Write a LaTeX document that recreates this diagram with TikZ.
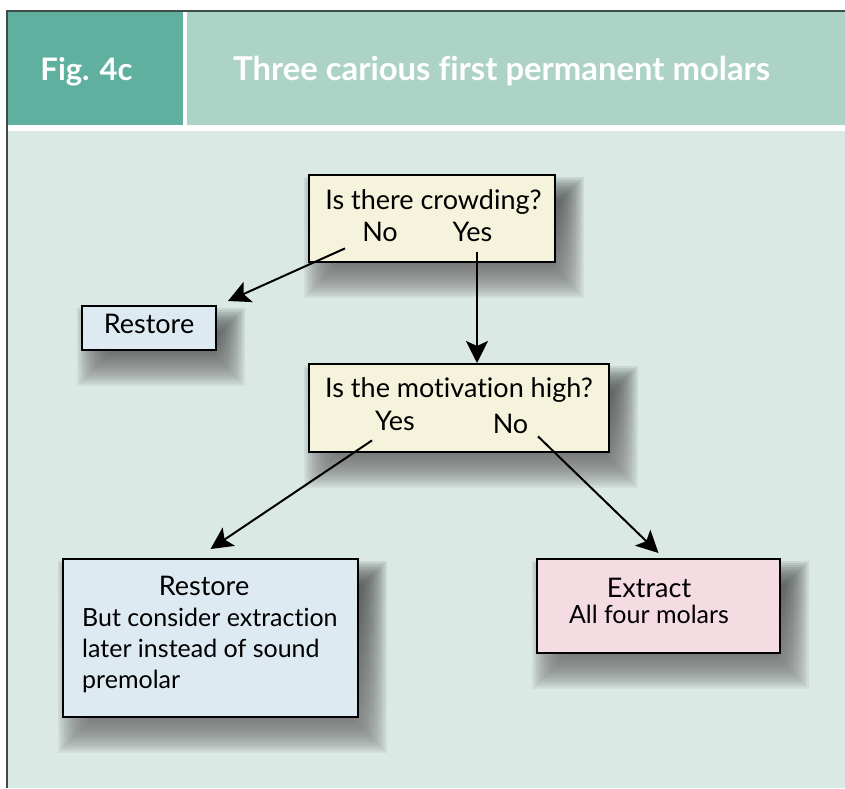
\documentclass[tikz,border=0pt]{standalone}
\usepackage{fontspec}
\setmainfont[Ligatures=NoCommon]{Lato}
\usetikzlibrary{positioning,arrows.meta}

\definecolor{headdark}{HTML}{5FB09F}
\definecolor{headlight}{HTML}{ADD2C6}
\definecolor{panel}{HTML}{DBE9E4}
\definecolor{framegray}{HTML}{3E4C4A}
\definecolor{askfill}{HTML}{F5F3DC}
\definecolor{keepfill}{HTML}{DEEAF2}
\definecolor{pullfill}{HTML}{F4DCE2}
\definecolor{shade}{HTML}{2E3A37}

\pgfdeclarelayer{back}
\pgfdeclarelayer{shadow}
\pgfsetlayers{back,shadow,main}

\begin{document}
\begin{tikzpicture}[x=1pt,y=-1pt,
% node style
box/.style={rectangle, draw=black, line width=2pt, inner sep=0pt},
ask/.style={box, fill=askfill},
keep/.style={box, fill=keepfill},
pull/.style={box, fill=pullfill},
txt/.style={font=\fontsize{27}{32}\selectfont, inner sep=0pt, anchor=base},
small/.style={txt, font=\fontsize{25}{30}\selectfont},
head/.style={font=\bfseries\fontsize{31}{36}\selectfont, text=white, inner sep=0pt, anchor=base},
arr/.style={-{Stealth[length=22pt,width=22pt,inset=5pt]}, line width=2pt}
]
\useasboundingbox (0,0) rectangle (845,788);

% header and panel
\begin{pgfonlayer}{back}
\fill[white] (0,0) rectangle (845,788);
\fill[headdark] (7,11) rectangle (183,125);
\fill[headlight] (187,11) rectangle (845,125);
\fill[panel] (7,131) rectangle (845,788);
\draw[framegray, line width=1.4pt] (845,11) -- (7,11) -- (7,788);
\end{pgfonlayer}
\node[head] (fig) at (86.5,80) {Fig. 4c};
\node[head, anchor=base west, font=\bfseries\fontsize{32.8}{36}\selectfont] (title) at (233,80) {Three carious first permanent molars};

% nodes
\node[ask, minimum width=246pt, minimum height=87pt] (q1) at (432,218.5) {};
\node[keep, minimum width=134pt, minimum height=44pt] (rs1) at (149,328) {};
\node[ask, minimum width=300pt, minimum height=88pt] (q2) at (459,408) {};
\node[keep, minimum width=295pt, minimum height=158pt] (rs2) at (210.5,638) {};
\node[pull, minimum width=243pt, minimum height=94pt] (ext) at (658.5,606) {};

\node[txt] (q1t) at (433.5,209) {Is there crowding?};
\node[txt] (no1) at (380,241) {No};
\node[txt] (yes1) at (472.5,241) {Yes};
\node[txt] (rs1t) at (149,333) {Restore};
\node[txt] (q2t) at (459,397) {Is the motivation high?};
\node[txt] (yes2) at (395,430) {Yes};
\node[txt] (no2) at (510.5,433) {No};
\node[txt] (rs2t) at (204,595) {Restore};
\node[small, anchor=base west] (rs2a) at (82,626) {But consider extraction};
\node[small, anchor=base west] (rs2b) at (82,657) {later instead of sound};
\node[small, anchor=base west] (rs2c) at (82,688) {premolar};
\node[txt] (extt) at (649,597) {Extract};
\node[small] (exta) at (649,623) {All four molars};

% soft shadows behind the boxes
\begin{pgfonlayer}{shadow}
\foreach \n in {q1,rs1,q2,rs2,ext}
  \foreach \e in {-16,-14,...,16}
    \fill[shade, opacity=0.055] ([shift={(12-\e,19-\e)}]\n.north west) rectangle ([shift={(12+\e,19+\e)}]\n.south east);
\end{pgfonlayer}

% draw lines between nodes
\draw[arr] ([xshift=-35pt,yshift=-7pt]no1.south) -- ([xshift=11pt,yshift=4pt]rs1.north east);
\draw[arr, line width=2.5pt] ([xshift=4.5pt,yshift=-11pt]yes1.south) -- ([xshift=18pt]q2.north);
\draw[arr] ([xshift=-23pt,yshift=-10pt]yes2.south) -- ([yshift=9pt]rs2.north);
\draw[arr] ([xshift=27.5pt,yshift=-3pt]no2.south) -- ([yshift=5pt]ext.north);

\end{tikzpicture}
\end{document}
